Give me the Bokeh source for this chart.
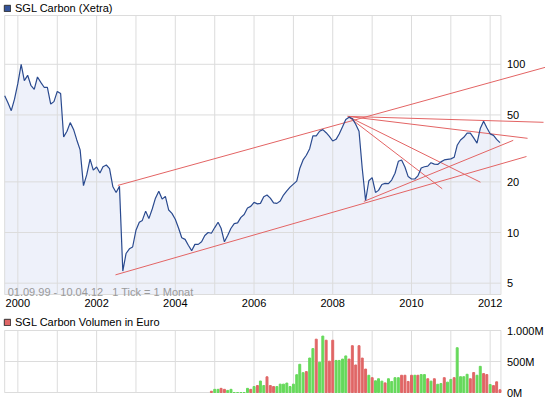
import numpy as np
import pandas as pd
from bokeh.plotting import figure
from bokeh.layouts import column
from bokeh.models import Range1d, ColumnDataSource, Legend, LegendItem
from bokeh.core.properties import value
from bokeh.embed import file_html
from bokeh.resources import INLINE

# ---------------- data ----------------
price_title = "SGL Carbon (Xetra)"
volume_title = "SGL Carbon Volumen in Euro"
period_first = "1999-09-01"
period_last = "2012-04-10"
tick_note = "1 Tick = 1 Monat"

price_first_month = "1999-09-01"
price_eur = [
    65, 59, 53, 62, 77, 100, 80, 86, 75, 71,
    84, 78, 73, 73, 58, 60, 69, 67, 37, 40,
    45, 41, 35.5, 31, 19, 22, 27.3, 23.5, 24.5, 22.6,
    24.6, 25.2, 24, 18.7, 17.3, 18.8, 5.9, 7.5, 8.0, 8.2,
    10.3, 11.5, 11.8, 13.4, 12.1, 13.8, 16.0, 17.6, 15.8, 16.4,
    13.6, 13.0, 12.0, 10.6, 9.3, 9.1, 8.4, 7.8, 8.5, 8.5,
    8.8, 9.6, 10.0, 9.9, 10.7, 11.5, 10.6, 8.8, 9.6, 10.6,
    11.3, 11.4, 12.3, 12.8, 14.0, 14.3, 15.1, 14.8, 14.9, 16.3,
    16.7, 16.0, 15.0, 14.9, 15.4, 16.7, 17.7, 18.6, 19.4, 20.2,
    24.0, 27.0, 28.8, 31.5, 37.5, 37.5, 40, 40.9, 39.2, 37.3,
    35, 35.8, 38.5, 42.5, 47, 48.5, 47.5, 44, 40, 24,
    15.5, 20.3, 21.2, 17.3, 17.8, 19.3, 19.6, 19.5, 20.5, 22.5,
    26.5, 27, 24.5, 21.5, 20.8, 20.8, 21.7, 24.2, 24.6, 24.8,
    26, 25.5, 25.4, 26.3, 27, 27.2, 27.4, 28, 33, 35.5,
    36.8, 39, 39, 36.5, 34, 41.5, 45.8, 42, 38.6, 37.8,
    35.8, 34.2,
]

volume_first_month = "2004-12-01"
volume_mio = [
    20, 51, 51, 67, 51, 34, 51, 0, 0, 0, 0,
    67, 51, 96, 112, 185, 112, 253, 112, 96, 96,
    135, 135, 152, 96, 135, 287, 455, 320, 337, 556,
    708, 860, 489, 910, 843, 506, 843, 517, 517, 539,
    590, 539, 755, 444, 755, 555, 378, 278, 239, 189,
    222, 183, 155, 222, 178, 239, 239, 278, 278, 178,
    278, 278, 278, 289, 289, 222, 183, 222, 133, 144,
    239, 167, 211, 239, 722, 255, 255, 294, 222, 322,
    278, 422, 305, 289, 128, 111, 172, 44,
]
volume_dir = list(
    "duudduuuuuu"
    "ududuudddu"
    "uuuuuuuudu"
    "uduuddduuu"
    "uddddddudu"
    "uuduuuuddd"
    "duduududuu"
    "duuduuuudd"
    "uudduddd"
)

price_ticks = [5, 10, 20, 50, 100]
price_tick_labels = ["5", "10", "20", "50", "100"]
volume_ticks = [0, 500, 1000]
volume_tick_labels = ["0M", "500M", "1.000M"]

trend_start_date = ["2002-07-17", "2002-06-25", "2008-10-16", "2008-05-20",
                    "2008-05-20", "2008-05-20", "2008-05-20"]
trend_start_price = [19.05, 5.6, 15.3, 49.0, 49.0, 49.0, 49.0]
trend_end_date = ["2013-05-28", "2012-12-03", "2012-08-02", "2013-05-10",
                  "2012-12-13", "2011-10-03", "2010-10-13"]
trend_end_price = [96.0, 28.3, 35.3, 45.2, 36.3, 19.9, 18.2]

# ---------------- style / layout ----------------
FONT = "Liberation Sans"
FS = "11px"
GRID = "#dcdcdc"
LINE = "#2a4a8f"
AREA = "#eef1fa"
TREND = "#e36464"
UP = "#66d95b"
DOWN = "#e06666"

W = 545
PX_PER_YEAR = 39.36
FIRST_PX = 4.2            # x of the first date in the page
H1, BOX1_TOP, BOX1_BOT = 312, 15, 294
H2, BOX2_TOP, BOX2_BOT = 86, 18, 80
PRICE_LO, PRICE_HI = 4.28, 195.0


def dt(values):
    return np.array(pd.to_datetime(values).values, dtype="datetime64[ms]")


d_first = pd.Timestamp(period_first)
d_last = pd.Timestamp(period_last)
day_per_px = 365.25 / PX_PER_YEAR
x_start = d_first - pd.Timedelta(days=FIRST_PX * day_per_px)
x_end = x_start + pd.Timedelta(days=W * day_per_px)
xr = Range1d(start=x_start.value / 1e6, end=x_end.value / 1e6)

ppd = (BOX1_BOT - BOX1_TOP) / np.log10(PRICE_HI / PRICE_LO)
yr1 = Range1d(PRICE_LO / 10 ** ((H1 - BOX1_BOT) / ppd),
              PRICE_HI * 10 ** (BOX1_TOP / ppd))
vpp = 1000.0 / (BOX2_BOT - BOX2_TOP)
yr2 = Range1d(-(H2 - BOX2_BOT) * vpp, 1000 + BOX2_TOP * vpp)

years = list(range(d_first.year + 1, d_last.year + 1))
year_dates = dt([f"{y}-01-01" for y in years])
label_years = [y for y in years if y % 2 == 0]
label_dates = dt([f"{y}-01-01" for y in label_years])

price_dates = dt(pd.date_range(price_first_month, periods=len(price_eur), freq="MS"))
vol_dates = dt(pd.date_range(volume_first_month, periods=len(volume_mio), freq="MS"))

n = len(years)
m = len(price_ticks)
k = len(volume_ticks)


def make_fig(h, yr, log):
    f = figure(width=W, height=h, x_range=xr, y_range=yr,
               x_axis_type="datetime", y_axis_type="log" if log else "linear",
               x_axis_location=None, y_axis_location=None,
               output_backend="svg", toolbar_location=None,
               min_border_left=0, min_border_right=0, min_border_top=0,
               min_border_bottom=0)
    f.outline_line_color = None
    f.xgrid.visible = False
    f.ygrid.visible = False
    return f


def add_legend(f, label, fill, h, top):
    dummy = f.quad(left=dt([period_first]), right=dt([period_last]),
                   top=[f.y_range.start / 10 if f.y_range.start > 0 else -1e9],
                   bottom=[f.y_range.start / 20 if f.y_range.start > 0 else -2e9],
                   fill_color=fill, line_color="#333333")
    leg = Legend(items=[LegendItem(label=label, renderers=[dummy])],
                 location=(3, h - top - 14), orientation="horizontal",
                 border_line_color=None, background_fill_alpha=0,
                 padding=0, margin=0, spacing=0, glyph_width=8, glyph_height=8,
                 label_height=14, label_standoff=4, label_text_font=FONT,
                 label_text_font_size=FS, label_text_color="#000000")
    f.add_layout(leg, "center")


# ---------------- price chart ----------------
p1 = make_fig(H1, yr1, True)

p1.varea(x=price_dates, y1=[PRICE_LO] * len(price_eur), y2=price_eur,
         fill_color=AREA)
p1.segment(x0=year_dates, y0=[PRICE_LO] * n, x1=year_dates, y1=[PRICE_HI] * n,
           line_color=GRID, line_width=1)
p1.segment(x0=dt([period_first] * m), y0=price_ticks,
           x1=dt([period_last] * m), y1=price_ticks,
           line_color=GRID, line_width=1)
p1.quad(left=dt([period_first]), right=dt([period_last]), bottom=[PRICE_LO],
        top=[PRICE_HI], fill_alpha=0, line_color=GRID, line_width=1)

p1.segment(x0=dt(trend_start_date), y0=trend_start_price,
           x1=dt(trend_end_date), y1=trend_end_price,
           line_color=TREND, line_width=1)

p1.line(x=price_dates, y=price_eur, line_color=LINE, line_width=1.2)

txt = dict(text_font=value(FONT), text_font_size=FS)
p1.text(x=dt([period_last] * m), y=price_ticks, text=price_tick_labels,
        x_offset=6, text_align="left", text_baseline="middle",
        text_color="#000000", **txt)
p1.text(x=label_dates, y=[PRICE_LO] * len(label_years),
        text=[str(y) for y in label_years], y_offset=8, text_align="center",
        text_baseline="middle", text_color="#000000", **txt)

note = (d_first.strftime("%d.%m.%y") + " - " + d_last.strftime("%d.%m.%y")
        + "\u00a0\u00a0\u00a0" + tick_note)
p1.text(x=dt([period_first]), y=[PRICE_LO], text=[note], x_offset=3,
        y_offset=-3, text_align="left", text_baseline="alphabetic",
        text_color="#9a9a9a", **txt)

add_legend(p1, price_title, "#34539a", H1, 1)

# ---------------- volume chart ----------------
p2 = make_fig(H2, yr2, False)

p2.segment(x0=year_dates, y0=[0] * n, x1=year_dates, y1=[1000] * n,
           line_color=GRID, line_width=1)
p2.segment(x0=dt([period_first] * k), y0=volume_ticks,
           x1=dt([period_last] * k), y1=volume_ticks,
           line_color=GRID, line_width=1)
p2.quad(left=dt([period_first]), right=dt([period_last]), bottom=[0],
        top=[1000], fill_alpha=0, line_color=GRID, line_width=1)

vsrc = ColumnDataSource(dict(date=vol_dates, vol=volume_mio,
                             color=[UP if d == "u" else DOWN for d in volume_dir]))
p2.vbar(x="date", top="vol", bottom=0, width=18 * 86400000, color="color",
        source=vsrc)

p2.text(x=dt([period_last] * k), y=volume_ticks, text=volume_tick_labels,
        x_offset=6, text_align="left", text_baseline="middle",
        text_color="#000000", **txt)

add_legend(p2, volume_title, DOWN, H2, 3)

layout = column(p1, p2, spacing=0)
open("out.html", "w").write(file_html(layout, INLINE))
